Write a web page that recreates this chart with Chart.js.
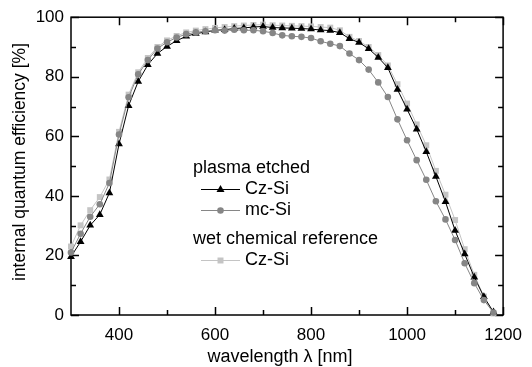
<!DOCTYPE html>
<html lang="en">
<head>
    <title>Internal quantum efficiency</title>
    <meta charset="utf-8">
    <script src="https://cdn.jsdelivr.net/npm/chart.js@4.4.1/dist/chart.umd.min.js"></script>
    <style>
        body { margin: 0; background: #fff; }
    </style>
</head>
<body>
<canvas id="iqe-chart" width="532" height="367"></canvas>
<script>
// wavelength grid, 300..1180 nm in 20 nm steps
const wavelengths = [300, 320, 340, 360, 380, 400, 420, 440, 460, 480,
    500, 520, 540, 560, 580, 600, 620, 640, 660, 680,
    700, 720, 740, 760, 780, 800, 820, 840, 860, 880,
    900, 920, 940, 960, 980, 1000, 1020, 1040, 1060, 1080,
    1100, 1120, 1140, 1160, 1180];

// plasma etched Cz-Si (triangles)
const plasmaCz = [19.6, 24.6, 30.1, 33.7, 41.0, 57.4, 70.3, 78.4, 84.0, 87.8,
    90.2, 92.1, 93.6, 94.5, 95.0, 95.6, 95.8, 96.2, 96.4, 96.7,
    96.9, 96.5, 96.4, 96.3, 96.2, 96.0, 95.7, 95.5, 94.8, 92.8,
    91.5, 89.4, 86.5, 83.0, 75.7, 69.1, 62.4, 54.8, 46.5, 38.0,
    28.4, 20.5, 12.7, 6.1, 1.0];

// plasma etched mc-Si (circles)
const plasmaMc = [21.0, 27.3, 33.0, 37.2, 44.3, 60.6, 73.1, 80.8, 85.6, 89.5,
    91.6, 93.2, 94.3, 94.9, 95.3, 95.6, 95.5, 95.8, 95.6, 95.6,
    95.3, 94.7, 93.9, 93.6, 93.4, 93.0, 91.9, 91.1, 90.3, 87.8,
    85.6, 82.4, 78.1, 73.2, 65.7, 58.7, 52.0, 45.4, 38.2, 32.1,
    25.2, 17.4, 10.7, 5.0, 0.8];

// wet chemical reference Cz-Si (squares)
const wetCz = [23.0, 30.1, 35.2, 39.6, 45.5, 61.5, 74.0, 81.5, 86.3, 90.0,
    92.2, 93.7, 94.9, 95.5, 96.0, 96.4, 96.7, 97.0, 97.2, 97.4,
    97.5, 97.3, 97.2, 97.1, 97.0, 96.9, 96.7, 96.5, 95.6, 93.4,
    92.0, 90.0, 87.3, 83.8, 77.5, 71.0, 64.0, 57.0, 48.4, 40.4,
    31.9, 22.1, 13.5, 6.2, 0.5];

const xTicks = [400, 600, 800, 1000, 1200];
const xMinor = [500, 700, 900, 1100];
const yTicks = [0, 20, 40, 60, 80, 100];
const yMinor = [10, 30, 50, 70, 90];

const FONT = '"Liberation Sans", Arial, sans-serif';
Chart.defaults.font.family = FONT;
Chart.defaults.color = '#000';

function pts(vals) {
    return wavelengths.map((w, i) => ({x: w, y: vals[i]}));
}

// draws one legend marker by hand
function marker(ctx, style, x, y, color) {
    ctx.fillStyle = color;
    ctx.beginPath();
    if (style === 'triangle') {
        ctx.moveTo(x, y - 4.5);
        ctx.lineTo(x + 4, y + 2.5);
        ctx.lineTo(x - 4, y + 2.5);
        ctx.closePath();
    } else if (style === 'circle') {
        ctx.arc(x, y, 3.3, 0, Math.PI * 2);
    } else {
        ctx.rect(x - 3, y - 3, 6, 6);
    }
    ctx.fill();
}

const frameAndLegend = {
    id: 'frameAndLegend',
    beforeDatasetsDraw(chart) {
        const ctx = chart.ctx, a = chart.chartArea;
        const x = chart.scales.x, y = chart.scales.y;
        ctx.save();
        ctx.strokeStyle = '#000';
        ctx.lineWidth = 1.5;
        ctx.strokeRect(a.left, a.top, a.right - a.left, a.bottom - a.top);
        ctx.beginPath();
        // inward ticks on all four sides
        const xt = (v, len) => {
            const px = Math.round(x.getPixelForValue(v)) + 0.5;
            ctx.moveTo(px, a.bottom); ctx.lineTo(px, a.bottom - len);
            ctx.moveTo(px, a.top); ctx.lineTo(px, a.top + len);
        };
        const yt = (v, len) => {
            const py = Math.round(y.getPixelForValue(v)) + 0.5;
            ctx.moveTo(a.left, py); ctx.lineTo(a.left + len, py);
            ctx.moveTo(a.right, py); ctx.lineTo(a.right - len, py);
        };
        xTicks.forEach(v => xt(v, 8));
        xMinor.forEach(v => xt(v, 5));
        yTicks.forEach(v => yt(v, 8));
        yMinor.forEach(v => yt(v, 5));
        ctx.stroke();
        ctx.restore();
    },
    afterDraw(chart) {
        const ctx = chart.ctx;
        ctx.save();
        ctx.fillStyle = '#000';
        ctx.textBaseline = 'middle';

        // axis titles
        ctx.font = '18px ' + FONT;
        ctx.textAlign = 'center';
        ctx.fillText('wavelength \u03bb [nm]', 280, 357);
        ctx.save();
        ctx.translate(20, 162);
        ctx.rotate(-Math.PI / 2);
        ctx.font = '17.5px ' + FONT;
        ctx.fillText('internal quantum efficiency [%]', 0, 0);
        ctx.restore();

        // legend
        ctx.textAlign = 'left';
        ctx.font = '18px ' + FONT;
        ctx.fillText('plasma etched', 193, 168);
        ctx.fillText('wet chemical reference', 193, 239);
        const rows = [
            {y: 189, ds: chart.data.datasets[0]},
            {y: 210, ds: chart.data.datasets[1]},
            {y: 260, ds: chart.data.datasets[2]}
        ];
        rows.forEach(r => {
            ctx.strokeStyle = r.ds.borderColor;
            ctx.lineWidth = 1;
            ctx.beginPath();
            ctx.moveTo(201, r.y + 0.5);
            ctx.lineTo(240, r.y + 0.5);
            ctx.stroke();
            marker(ctx, r.ds.pointStyle, 220.5, r.y + 0.5, r.ds.pointBackgroundColor);
            ctx.fillStyle = '#000';
            ctx.fillText(r.ds.label, 245, r.y);
        });
        ctx.restore();
    }
};

new Chart('iqe-chart', {
    type: 'line',
    data: {
        datasets: [
            {
                label: 'Cz-Si',
                data: pts(plasmaCz),
                borderColor: '#000000',
                pointBackgroundColor: '#000000',
                pointBorderWidth: 0,
                pointStyle: 'triangle',
                pointRadius: 4.5,
                borderWidth: 1,
                order: 2,
                clip: false
            },
            {
                label: 'mc-Si',
                data: pts(plasmaMc),
                borderColor: '#868686',
                pointBackgroundColor: '#868686',
                pointBorderWidth: 0,
                pointStyle: 'circle',
                pointRadius: 3.3,
                borderWidth: 1,
                order: 1,
                clip: false
            },
            {
                label: 'Cz-Si',
                data: pts(wetCz),
                borderColor: '#c4c4c4',
                pointBackgroundColor: '#c4c4c4',
                pointBorderWidth: 0,
                pointStyle: 'rect',
                pointRadius: 4.2,
                borderWidth: 1,
                order: 3,
                clip: false
            }
        ]
    },
    options: {
        responsive: false,
        animation: false,
        devicePixelRatio: 1,
        layout: { padding: { top: 14, right: 19, left: 0, bottom: 0 } },
        plugins: { legend: { display: false }, tooltip: { enabled: false } },
        scales: {
            x: {
                type: 'linear',
                min: 300,
                max: 1200,
                grid: { display: false, drawTicks: false },
                border: { display: false },
                ticks: { font: { size: 17 }, padding: 10, maxRotation: 0, callback: v => String(v) },
                afterBuildTicks: s => { s.ticks = xTicks.map(v => ({value: v})); },
                afterFit: s => { s.height = 52; }
            },
            y: {
                min: 0,
                max: 100,
                grid: { display: false, drawTicks: false },
                border: { display: false },
                ticks: { font: { size: 17 }, padding: 7, callback: v => String(v) },
                afterBuildTicks: s => { s.ticks = yTicks.map(v => ({value: v})); },
                afterFit: s => { s.width = 71; }
            }
        }
    },
    plugins: [frameAndLegend]
});
</script>
</body>
</html>
